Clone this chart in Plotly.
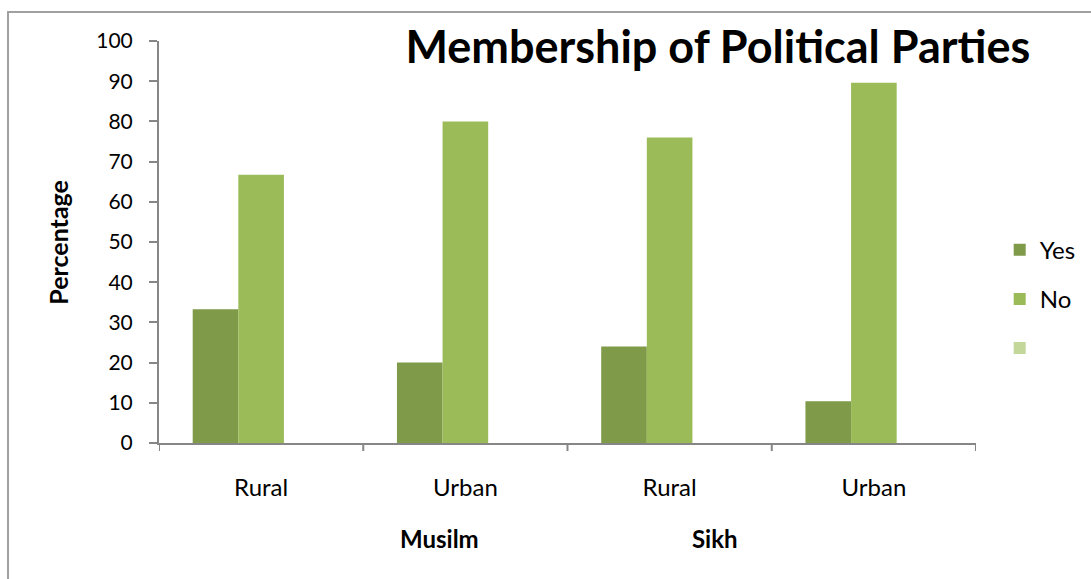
import plotly.graph_objects as go

categories = ["Rural", "Urban", "Rural", "Urban"]
religions = ["Musilm", "Sikh"]
yes_vals = [33.3, 20.0, 24.0, 10.4]
no_vals = [66.7, 80.0, 76.0, 89.6]
third_vals = [None, None, None, None]
series_names = ["Yes", "No", " "]
colors = ["#7F9A48", "#9BBB59", "#C4D79B"]
y_ticks = list(range(0, 101, 10))

FONT = "Lato"
x_idx = list(range(len(categories)))

fig = go.Figure()
for i, (name, vals) in enumerate(zip(series_names, [yes_vals, no_vals, third_vals])):
    fig.add_trace(go.Bar(
        x=x_idx, y=vals, name=name, marker_color=colors[i],
        marker_line_width=0, legendgroup=f"g{i}", showlegend=True,
    ))

fig.update_layout(
    width=1091, height=579,
    margin=dict(l=159, r=115, t=41, b=136, autoexpand=False),
    paper_bgcolor="white", plot_bgcolor="white",
    barmode="group", bargap=0.33, bargroupgap=0,
    font=dict(family=FONT, size=24, color="black"),
    showlegend=True,
    legend=dict(x=1.029, y=0.358, xanchor="left", yanchor="middle",
                font=dict(size=24), tracegroupgap=15, itemwidth=30,
                bgcolor="rgba(0,0,0,0)"),
    title=dict(text="<b>Membership of Political Parties</b>",
               x=0.658, xanchor="center", y=0.918, yanchor="middle",
               font=dict(size=45, family=FONT)),
)

fig.update_xaxes(
    range=[-0.5, len(categories) - 0.5],
    tickmode="array", tickvals=x_idx, ticktext=categories,
    tickfont=dict(size=24),
    showline=True, linecolor="#868686", linewidth=2,
    ticks="", showgrid=False, zeroline=False,
    ticklabelstandoff=22,
)
fig.update_yaxes(
    range=[0, 100], tickmode="array", tickvals=y_ticks,
    tickfont=dict(size=21),
    showline=True, linecolor="#868686", linewidth=2,
    ticks="outside", ticklen=8, tickcolor="#868686", tickwidth=2,
    showgrid=False, zeroline=False, ticklabelstandoff=12,
)

# boundary tick marks on x axis
for b in [k - 0.5 for k in range(len(categories) + 1)]:
    fig.add_shape(type="line", xref="x", yref="paper", x0=b, x1=b, y0=0, y1=-0.02,
                  line=dict(color="#868686", width=2))

# group labels
for xpos, txt in zip([0.873, 2.22], religions):
    fig.add_annotation(x=xpos, xref="x", y=-0.238, yref="paper", text=f"<b>{txt}</b>",
                       showarrow=False, font=dict(size=24, family=FONT),
                       xanchor="center", yanchor="middle")

fig.add_annotation(x=-0.124, xref="paper", y=0.5, yref="paper", text="<b>Percentage</b>",
                   textangle=-90, showarrow=False, font=dict(size=25, family=FONT),
                   xanchor="center", yanchor="middle")

# outer chart border
fig.add_shape(type="rect", xref="paper", yref="paper",
              x0=-0.1848, x1=1.3, y0=-0.6, y1=1.072,
              line=dict(color="#A0A0A0", width=2), layer="below")

fig.write_html("out.html")
